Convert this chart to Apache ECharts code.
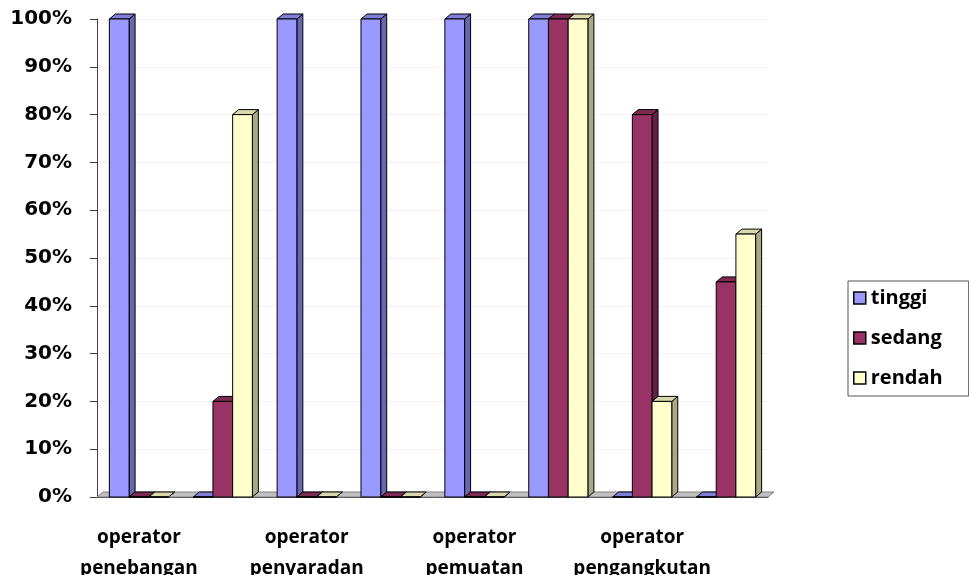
<!DOCTYPE html>
<html>
<head>
<meta charset="utf-8">
<script src="https://cdn.jsdelivr.net/npm/echarts@6/dist/echarts.min.js"></script>
<style>
html, body { margin: 0; padding: 0; background: #fff; }
#chart { width: 969px; height: 575px; }
</style>
</head>
<body>
<div id="chart"></div>
<script>
// data
const categories = ['operator\npenebangan', '', 'operator\npenyaradan', '', 'operator\npemuatan', '', 'operator\npengangkutan', '']
const tinggi = [100, 0, 100, 100, 100, 100, 0, 0]
const sedang = [0, 20, 0, 0, 0, 100, 80, 45]
const rendah = [0, 80, 0, 0, 0, 100, 20, 55]
const seriesNames = ['tinggi', 'sedang', 'rendah']

// 3D look: depth offset of top / side faces
const DX = 6
const DY = 5

const palette = [
  { front: '#9999ff', top: '#7f7fd9', side: '#6666b3' },
  { front: '#993366', top: '#7d2a54', side: '#661f44' },
  { front: '#ffffcc', top: '#d9d9ad', side: '#a9a986' }
]

function barRenderer(slot) {
  const c = palette[slot]
  return function (params, api) {
    const i = api.value(0)
    const base = api.coord([i, 0])
    const tip = api.coord([i, api.value(1)])
    const band = api.size([1, 0])[0]
    const bw = band * 0.235
    const x0 = base[0] + (slot - 1.5) * bw
    const x1 = x0 + bw
    const y0 = base[1]
    const y1 = tip[1]
    const line = { stroke: '#000', lineWidth: 1, lineJoin: 'round' }
    return {
      type: 'group',
      children: [
        {
          type: 'polygon',
          shape: { points: [[x1, y1], [x1 + DX, y1 - DY], [x1 + DX, y0 - DY], [x1, y0]] },
          style: Object.assign({ fill: c.side }, line)
        },
        {
          type: 'polygon',
          shape: { points: [[x0, y1], [x1, y1], [x1 + DX, y1 - DY], [x0 + DX, y1 - DY]] },
          style: Object.assign({ fill: c.top }, line)
        },
        {
          type: 'rect',
          shape: { x: x0, y: y1, width: bw, height: y0 - y1 },
          style: Object.assign({ fill: c.front }, line)
        }
      ]
    }
  }
}

function floorRenderer(params, api) {
  const band = api.size([1, 0])[0]
  const first = api.coord([0, 0])
  const last = api.coord([categories.length - 1, 0])
  const xl = first[0] - band / 2
  const xr = last[0] + band / 2
  const y0 = first[1]
  return {
    type: 'polygon',
    shape: { points: [[xl, y0], [xr, y0], [xr + DX, y0 - DY], [xl + DX, y0 - DY]] },
    style: { fill: '#c0c0c0', stroke: '#808080', lineWidth: 1 }
  }
}

const chart = echarts.init(document.getElementById('chart'))

const values = [tinggi, sedang, rendah]
const series = [{
  name: 'floor',
  type: 'custom',
  renderItem: floorRenderer,
  data: [[0, 0]],
  encode: { x: 0, y: 1 },
  silent: true
}]
seriesNames.forEach((name, s) => {
  series.push({
    name: name,
    type: 'custom',
    renderItem: barRenderer(s),
    itemStyle: { color: palette[s].front },
    encode: { x: 0, y: 1 },
    data: values[s].map((v, i) => [i, v])
  })
})

chart.setOption({
  animation: false,
  grid: { left: 97, right: 201, top: 19, bottom: 78, outerBoundsMode: 'none' },
  legend: {
    orient: 'vertical',
    left: 848,
    top: 281,
    icon: 'rect',
    itemWidth: 12,
    itemHeight: 12,
    itemGap: 20,
    padding: [7, 26, 8, 5],
    borderColor: '#555',
    borderWidth: 1,
    itemStyle: { borderColor: '#000', borderWidth: 1.5 },
    textStyle: { fontFamily: 'Open Sans', fontWeight: 'bold', fontSize: 20, color: '#000' },
    data: seriesNames
  },
  xAxis: {
    type: 'category',
    data: categories,
    axisLine: { lineStyle: { color: '#404040', width: 1 } },
    axisTick: { interval: 0, length: 9, lineStyle: { color: '#404040' } },
    axisLabel: {
      interval: 0,
      margin: 25,
      fontFamily: 'Open Sans',
      fontWeight: 'bold',
      fontSize: 19,
      lineHeight: 31,
      color: '#000'
    }
  },
  yAxis: {
    type: 'value',
    min: 0,
    max: 100,
    interval: 10,
    axisLine: { show: true, lineStyle: { color: '#404040', width: 1 } },
    axisTick: { show: true, length: 7, lineStyle: { color: '#404040' } },
    splitLine: { show: true, lineStyle: { color: '#f2f2f2' } },
    axisLabel: {
      formatter: '{value}%',
      margin: 25,
      fontFamily: 'DejaVu Sans',
      fontWeight: 'bold',
      fontSize: 20,
      color: '#000'
    }
  },
  series: series
})
</script>
</body>
</html>
